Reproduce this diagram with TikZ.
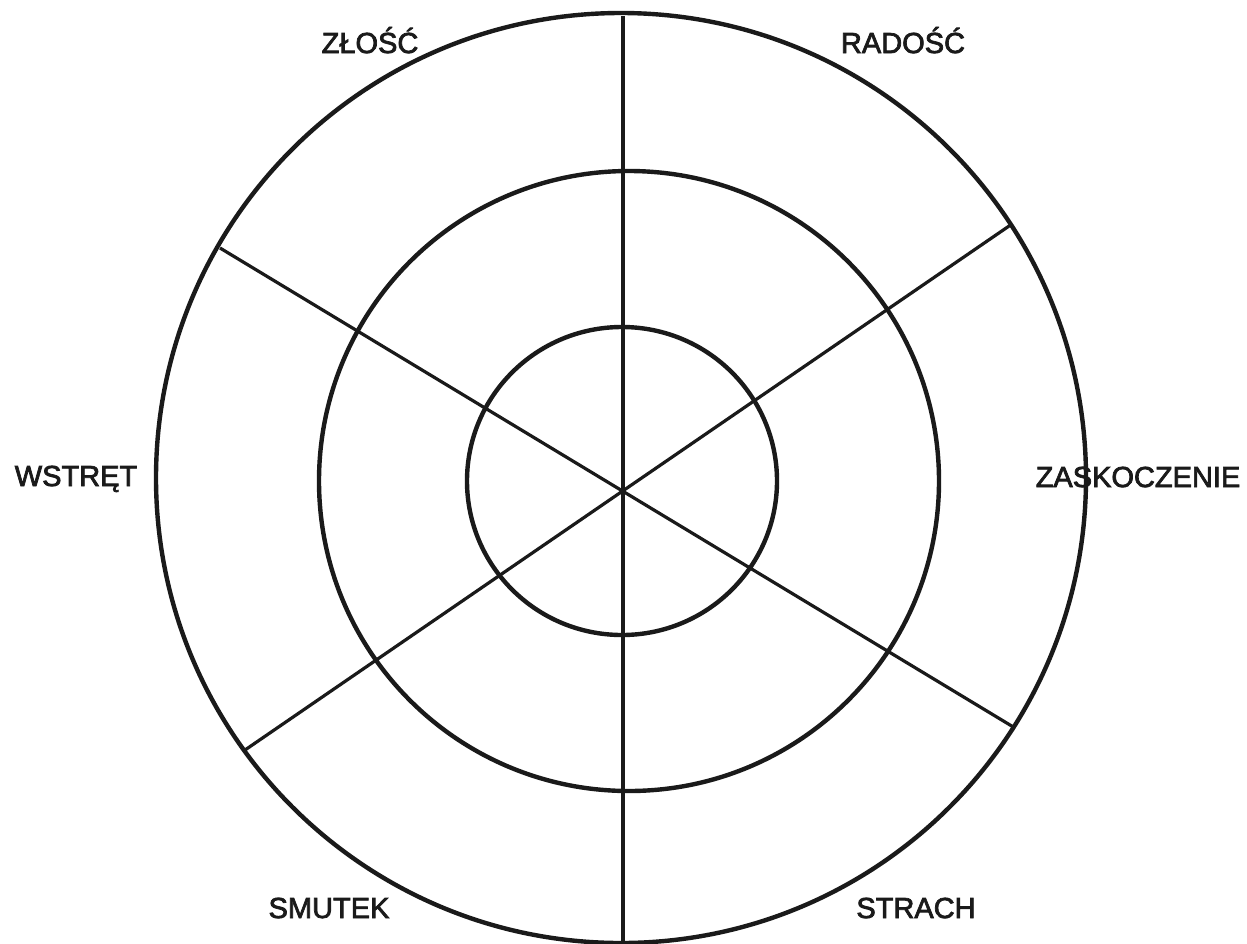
\documentclass[tikz,border=0pt]{standalone}
\usepackage{fontspec}
\setmainfont{Liberation Sans}
\newfontfamily\lblfont{Liberation Sans}[FakeBold=2.5]
\definecolor{ink}{HTML}{1A1A1A}
\begin{document}
\begin{tikzpicture}[x=1pt,y=-1pt,
  ring/.style={draw=ink,line width=4.4pt},
  spoke/.style={draw=ink,line width=3.2pt},
  lbl/.style={anchor=base,inner sep=0pt,text=ink,font=\lblfont\fontsize{29}{34}\selectfont}]
\useasboundingbox (0,0) rectangle (1247,943);
\fill[white] (0,0) rectangle (1247,943);
% centre of spokes and end points
\coordinate (c) at (623,492);
\coordinate (t) at (623,16);
\coordinate (b) at (623,943);
\coordinate (ur) at (1012,224);
\coordinate (ll) at (245,750);
\coordinate (ul) at (220,248);
\coordinate (lr) at (1015,728);
% spokes
\draw[spoke] (t) -- (b);
\draw[spoke] (ur) -- (ll);
\draw[spoke] (ul) -- (lr);
% rings
\draw[ring] (621,478) circle[radius=465];
\draw[ring] (629,481) circle[radius=310];
\draw[ring] (622,481) circle[x radius=155,y radius=154];
% labels
\node[lbl] (zlosc) at (370,53) {ZŁOŚĆ};
\node[lbl] (radosc) at (903,53) {RADOŚĆ};
\node[lbl] (wstret) at (76,486) {WSTRĘT};
\node[lbl] (zask) at (1138,487) {ZASKOCZENIE};
\node[lbl] (smutek) at (329,918) {SMUTEK};
\node[lbl] (strach) at (916,918) {STRACH};
\end{tikzpicture}
\end{document}
